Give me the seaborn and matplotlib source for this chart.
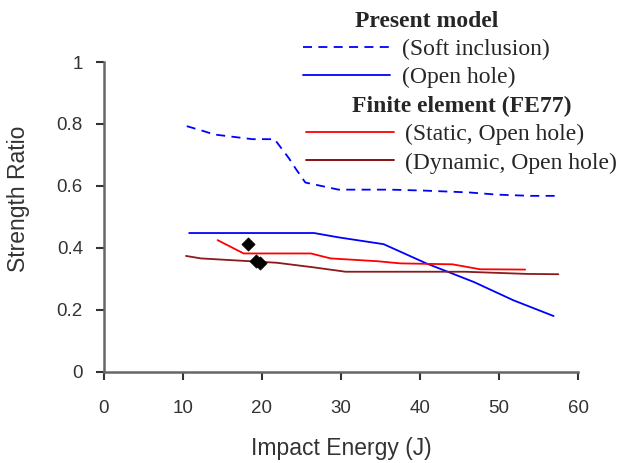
import numpy as np
import pandas as pd
import matplotlib
matplotlib.use("Agg")
import matplotlib.pyplot as plt
import seaborn as sns
from matplotlib.lines import Line2D

# values
soft_x = [10.5, 12.5, 14.0, 18.8, 21.6, 23.4, 24.4, 25.5, 29.7, 36.3, 40.5, 46.2, 49.7, 54.0, 57.1]
soft_y = [0.793, 0.778, 0.766, 0.751, 0.751, 0.690, 0.651, 0.611, 0.588, 0.588, 0.585, 0.579, 0.572, 0.568, 0.568]

open_x = [10.8, 26.6, 29.7, 35.4, 40.8, 46.8, 51.8, 56.9]
open_y = [0.448, 0.448, 0.434, 0.412, 0.350, 0.290, 0.231, 0.180]

static_x = [14.4, 17.7, 26.2, 28.7, 34.6, 37.5, 44.1, 47.6, 53.3]
static_y = [0.425, 0.382, 0.382, 0.366, 0.357, 0.350, 0.347, 0.331, 0.330]

dyn_x = [10.4, 12.3, 21.9, 26.6, 30.6, 45.7, 53.5, 57.5]
dyn_y = [0.374, 0.366, 0.352, 0.337, 0.323, 0.323, 0.316, 0.315]

exp_x = [18.2, 19.2, 19.8]
exp_y = [0.411, 0.358, 0.352]

sns.set_style("ticks")
plt.rcParams['font.family'] = ['Liberation Sans', 'DejaVu Sans']

fig = plt.figure(figsize=(6.25, 4.63), dpi=100)
ax = fig.add_axes([0.166, 0.197, 0.759, 0.669])

sns.lineplot(x=soft_x, y=soft_y, ax=ax, color='#0000ff', lw=1.3, sort=False,
             estimator=None, linestyle=(0, (5, 3.5)))
sns.lineplot(x=open_x, y=open_y, ax=ax, color='#0000ff', lw=1.3, sort=False, estimator=None)
sns.lineplot(x=static_x, y=static_y, ax=ax, color='#ff0000', lw=1.3, sort=False, estimator=None)
sns.lineplot(x=dyn_x, y=dyn_y, ax=ax, color='#8b1a1a', lw=1.3, sort=False, estimator=None)
sns.scatterplot(x=exp_x, y=exp_y, ax=ax, color='black', marker='D', s=45, edgecolor='black', zorder=5)

ax.set_xlim(0, 60)
ax.set_ylim(0, 1)
ax.set_xticks(np.arange(0, 61, 10))
ax.set_yticks([0, 0.2, 0.4, 0.6, 0.8, 1])
ax.set_yticklabels(['0', '0.2', '0.4', '0.6', '0.8', '1'])
sns.despine(ax=ax)
for side in ['left', 'bottom']:
    ax.spines[side].set_color('#666666')
    ax.spines[side].set_linewidth(1.8)
ax.tick_params(direction='out', length=6, width=1.5, color='#333333',
               labelsize=13.5, labelcolor='#333333')
ax.tick_params(axis='x', pad=14)
ax.tick_params(axis='y', pad=9)
ax.set_xlabel('Impact Energy (J)', fontsize=16.5, color='#333333', labelpad=15)
ax.set_ylabel('Strength Ratio', fontsize=16.5, color='#333333')
ax.yaxis.set_label_coords(-0.156, 0.56)

serif = {'family': 'Liberation Serif', 'size': 17}
bold = {'family': 'Liberation Serif', 'size': 17, 'weight': 'bold'}

h1 = [Line2D([], [], color='#0000ff', lw=1.3, linestyle=(0, (5, 3.5))),
      Line2D([], [], color='#0000ff', lw=1.3)]
leg1 = ax.legend(h1, ['(Soft inclusion)', '(Open hole)'], title='Present model',
                 prop=serif, title_fontproperties=bold, frameon=False,
                 loc='upper left', bbox_to_anchor=(0.395, 1.203), handlelength=3.7,
                 handletextpad=0.5, labelspacing=0.28, borderpad=0)
ax.add_artist(leg1)

h2 = [Line2D([], [], color='#ff0000', lw=1.3),
      Line2D([], [], color='#7f0000', lw=1.3)]
ax.legend(h2, ['(Static, Open hole)', '(Dynamic, Open hole)'], title='Finite element (FE77)',
          prop=serif, title_fontproperties=bold, frameon=False,
          loc='upper left', bbox_to_anchor=(0.402, 0.928), handlelength=3.7,
          handletextpad=0.5, labelspacing=0.28, borderpad=0)

fig.savefig('out.png', dpi=100)
